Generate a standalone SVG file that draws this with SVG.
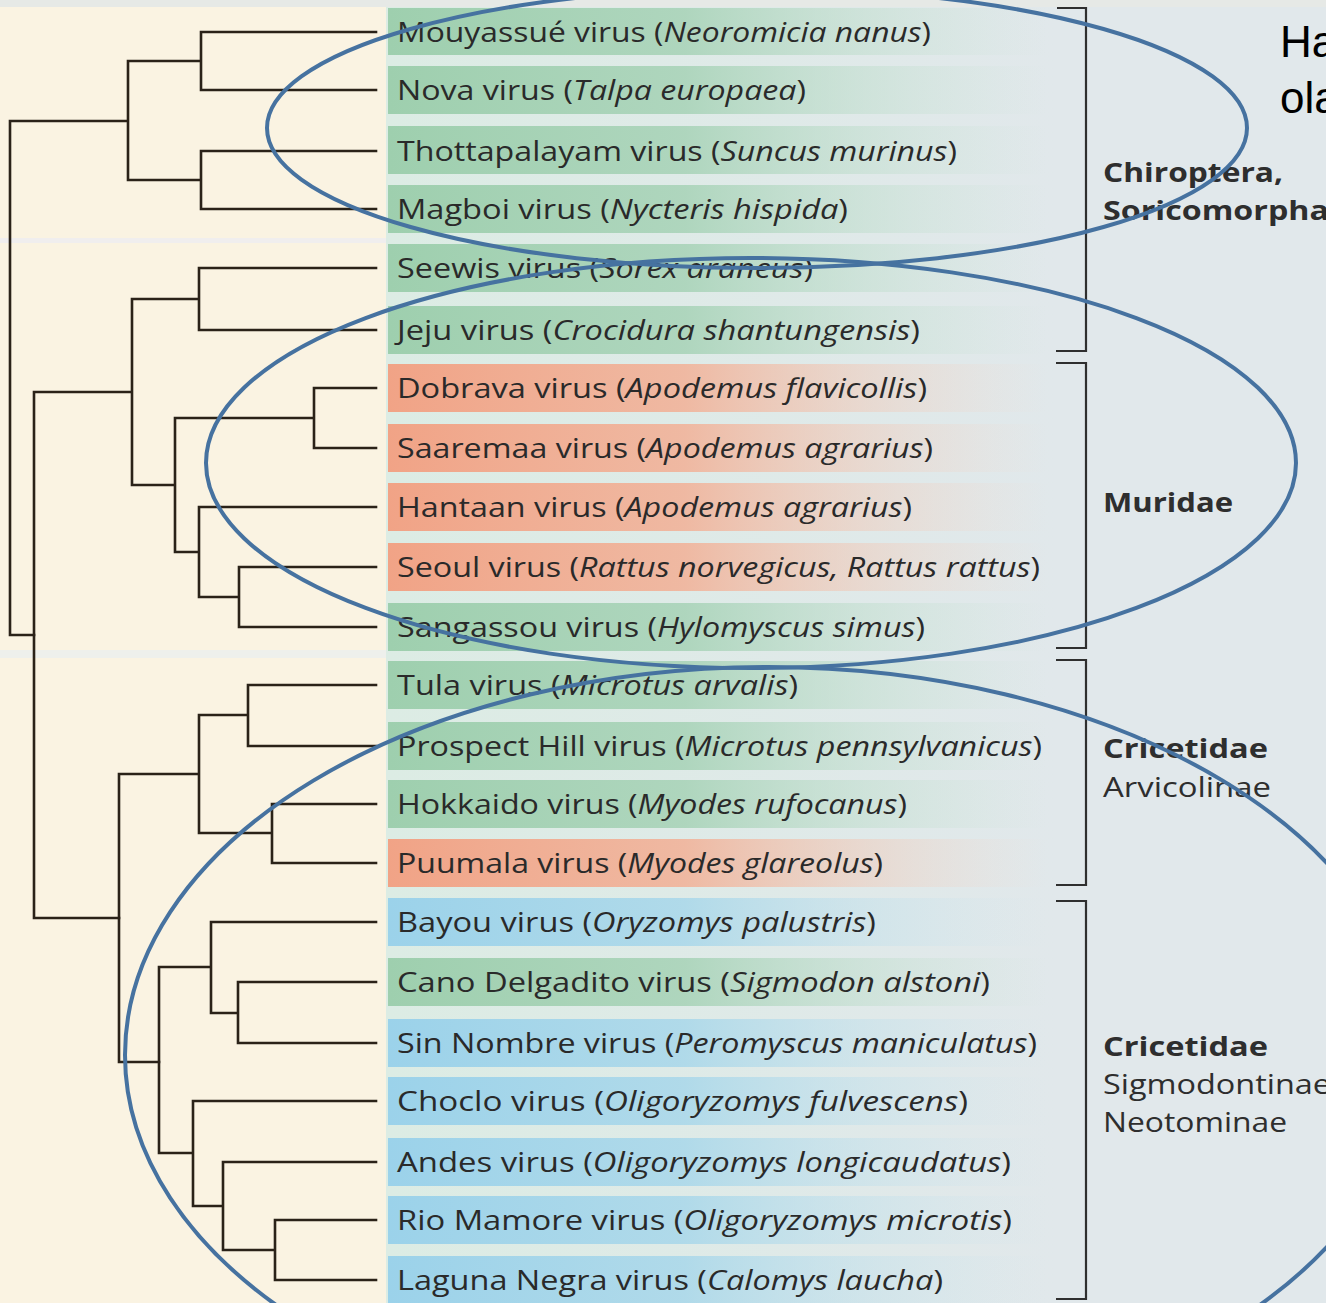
<svg xmlns="http://www.w3.org/2000/svg" width="1326" height="1303" viewBox="0 0 1326 1303">
<defs>
<linearGradient id="gGreen" x1="0" y1="0" x2="1" y2="0"><stop offset="0" stop-color="#9ecfae"/><stop offset="0.45" stop-color="#a6d2b6" stop-opacity="0.85"/><stop offset="1" stop-color="#c9e3d6" stop-opacity="0"/></linearGradient>
<linearGradient id="gSalmon" x1="0" y1="0" x2="1" y2="0"><stop offset="0" stop-color="#f1a386"/><stop offset="0.45" stop-color="#f2b096" stop-opacity="0.85"/><stop offset="1" stop-color="#f5d6c8" stop-opacity="0"/></linearGradient>
<linearGradient id="gBlue" x1="0" y1="0" x2="1" y2="0"><stop offset="0" stop-color="#9bd2ea"/><stop offset="0.45" stop-color="#a8d7ea" stop-opacity="0.85"/><stop offset="1" stop-color="#cfe5ee" stop-opacity="0"/></linearGradient>
<linearGradient id="gBase" x1="0" y1="0" x2="1" y2="0"><stop offset="0" stop-color="#dcece4"/><stop offset="1" stop-color="#e1e8eb"/></linearGradient>
<style>
.lbl{font-family:"Open Sans","Liberation Sans",sans-serif;font-size:27px;fill:#2a2a2a}
.i{font-style:italic}
.grp{font-family:"Open Sans","Liberation Sans",sans-serif;font-size:27px;fill:#2e2e2e}
.b{font-weight:700}
.tree{fill:none;stroke:#2a2218;stroke-width:2.6;stroke-linecap:square}
.brk{fill:none;stroke:#2f2f2f;stroke-width:2.2}
.ell{fill:none;stroke:#4672a0;stroke-width:4}
.g{fill:url(#gGreen)}.s{fill:url(#gSalmon)}.bl{fill:url(#gBlue)}
.big{font-family:"Liberation Sans",Arial,sans-serif;font-size:44px;fill:#000}
</style>
</defs>
<!-- backgrounds -->
<rect x="0" y="0" width="1326" height="1303" fill="#e1e8eb"/>
<rect x="0" y="0" width="386" height="1303" fill="#faf3e2"/>
<rect x="386" y="0" width="670" height="1303" fill="url(#gBase)"/>
<rect x="0" y="0" width="1326" height="7" fill="#e6e9e6"/>
<rect x="0" y="238" width="386" height="5" fill="#f0eeee"/>
<rect x="0" y="650" width="386" height="8" fill="#eef0ec"/>

<!-- label rows -->
<g id="n1"><rect class="g" x="388" y="8" width="660" height="47"/><text class="lbl" x="397" y="42" textLength="534" lengthAdjust="spacingAndGlyphs">Mouyassué virus (<tspan class="i">Neoromicia nanus</tspan>)</text></g>
<g id="n2"><rect class="g" x="388" y="66" width="660" height="48"/><text class="lbl" x="397" y="100" textLength="409" lengthAdjust="spacingAndGlyphs">Nova virus (<tspan class="i">Talpa europaea</tspan>)</text></g>
<g id="n3"><rect class="g" x="388" y="126" width="660" height="48"/><text class="lbl" x="397" y="161" textLength="560" lengthAdjust="spacingAndGlyphs">Thottapalayam virus (<tspan class="i">Suncus murinus</tspan>)</text></g>
<g id="n4"><rect class="g" x="388" y="185" width="660" height="48"/><text class="lbl" x="397" y="219" textLength="451" lengthAdjust="spacingAndGlyphs">Magboi virus (<tspan class="i">Nycteris hispida</tspan>)</text></g>
<g id="n5"><rect class="g" x="388" y="244" width="660" height="48"/><text class="lbl" x="397" y="278" textLength="416" lengthAdjust="spacingAndGlyphs">Seewis virus (<tspan class="i">Sorex araneus</tspan>)</text></g>
<g id="n6"><rect class="g" x="388" y="306" width="660" height="48"/><text class="lbl" x="397" y="340" textLength="523" lengthAdjust="spacingAndGlyphs">Jeju virus (<tspan class="i">Crocidura shantungensis</tspan>)</text></g>
<g id="n7"><rect class="s" x="388" y="364" width="660" height="48"/><text class="lbl" x="397" y="398" textLength="530" lengthAdjust="spacingAndGlyphs">Dobrava virus (<tspan class="i">Apodemus flavicollis</tspan>)</text></g>
<g id="n8"><rect class="s" x="388" y="424" width="660" height="48"/><text class="lbl" x="397" y="458" textLength="536" lengthAdjust="spacingAndGlyphs">Saaremaa virus (<tspan class="i">Apodemus agrarius</tspan>)</text></g>
<g id="n9"><rect class="s" x="388" y="483" width="660" height="48"/><text class="lbl" x="397" y="517" textLength="515" lengthAdjust="spacingAndGlyphs">Hantaan virus (<tspan class="i">Apodemus agrarius</tspan>)</text></g>
<g id="n10"><rect class="s" x="388" y="543" width="660" height="48"/><text class="lbl" x="397" y="577" textLength="643" lengthAdjust="spacingAndGlyphs">Seoul virus (<tspan class="i">Rattus norvegicus, Rattus rattus</tspan>)</text></g>
<g id="n11"><rect class="g" x="388" y="603" width="660" height="48"/><text class="lbl" x="397" y="637" textLength="528" lengthAdjust="spacingAndGlyphs">Sangassou virus (<tspan class="i">Hylomyscus simus</tspan>)</text></g>
<g id="n12"><rect class="g" x="388" y="661" width="660" height="48"/><text class="lbl" x="397" y="695" textLength="401" lengthAdjust="spacingAndGlyphs">Tula virus (<tspan class="i">Microtus arvalis</tspan>)</text></g>
<g id="n13"><rect class="g" x="388" y="722" width="660" height="48"/><text class="lbl" x="397" y="756" textLength="645" lengthAdjust="spacingAndGlyphs">Prospect Hill virus (<tspan class="i">Microtus pennsylvanicus</tspan>)</text></g>
<g id="n14"><rect class="g" x="388" y="780" width="660" height="48"/><text class="lbl" x="397" y="814" textLength="510" lengthAdjust="spacingAndGlyphs">Hokkaido virus (<tspan class="i">Myodes rufocanus</tspan>)</text></g>
<g id="n15"><rect class="s" x="388" y="839" width="660" height="48"/><text class="lbl" x="397" y="873" textLength="486" lengthAdjust="spacingAndGlyphs">Puumala virus (<tspan class="i">Myodes glareolus</tspan>)</text></g>
<g id="n16"><rect class="bl" x="388" y="898" width="660" height="48"/><text class="lbl" x="397" y="932" textLength="479" lengthAdjust="spacingAndGlyphs">Bayou virus (<tspan class="i">Oryzomys palustris</tspan>)</text></g>
<g id="n17"><rect class="g" x="388" y="958" width="660" height="48"/><text class="lbl" x="397" y="992" textLength="593" lengthAdjust="spacingAndGlyphs">Cano Delgadito virus (<tspan class="i">Sigmodon alstoni</tspan>)</text></g>
<g id="n18"><rect class="bl" x="388" y="1019" width="660" height="48"/><text class="lbl" x="397" y="1053" textLength="640" lengthAdjust="spacingAndGlyphs">Sin Nombre virus (<tspan class="i">Peromyscus maniculatus</tspan>)</text></g>
<g id="n19"><rect class="bl" x="388" y="1077" width="660" height="48"/><text class="lbl" x="397" y="1111" textLength="571" lengthAdjust="spacingAndGlyphs">Choclo virus (<tspan class="i">Oligoryzomys fulvescens</tspan>)</text></g>
<g id="n20"><rect class="bl" x="388" y="1138" width="660" height="48"/><text class="lbl" x="397" y="1172" textLength="614" lengthAdjust="spacingAndGlyphs">Andes virus (<tspan class="i">Oligoryzomys longicaudatus</tspan>)</text></g>
<g id="n21"><rect class="bl" x="388" y="1196" width="660" height="48"/><text class="lbl" x="397" y="1230" textLength="615" lengthAdjust="spacingAndGlyphs">Rio Mamore virus (<tspan class="i">Oligoryzomys microtis</tspan>)</text></g>
<g id="n22"><rect class="bl" x="388" y="1256" width="660" height="47"/><text class="lbl" x="397" y="1290" textLength="546" lengthAdjust="spacingAndGlyphs">Laguna Negra virus (<tspan class="i">Calomys laucha</tspan>)</text></g>

<!-- tree connectors -->
<g id="connectors" class="tree">
<path d="M376 32H201V90H376M376 151H201V209H376M201 61H128V180H201M128 121H10V635H34"/>
<path d="M376 268H199V330H376M376 388H314V448H376M376 507H199V597H239M376 567H239V627H376M314 418H175V552H199M199 299H132V485H175M132 392H34V918H119"/>
<path d="M376 685H248V746H376M376 804H272V863H376M248 715H199V833H272M199 774H119V1062H159"/>
<path d="M376 922H211V1013H238M376 982H238V1043H376M211 967H159V1153H193M376 1101H193V1206H223M376 1162H223V1250H275M376 1220H275V1280H376"/>
</g>

<!-- brackets and group labels -->
<g id="grp1"><path class="brk" d="M1057 8H1086V351H1056"/><text class="grp b" x="1103" y="182" textLength="180" lengthAdjust="spacingAndGlyphs">Chiroptera,</text><text class="grp b" x="1103" y="220" textLength="226" lengthAdjust="spacingAndGlyphs">Soricomorpha</text></g>
<g id="grp2"><path class="brk" d="M1056 363H1086V648H1056"/><text class="grp b" x="1103" y="512" textLength="130" lengthAdjust="spacingAndGlyphs">Muridae</text></g>
<g id="grp3"><path class="brk" d="M1056 660H1086V885H1056"/><text class="grp b" x="1103" y="758" textLength="165" lengthAdjust="spacingAndGlyphs">Cricetidae</text><text class="grp" x="1103" y="797" textLength="168" lengthAdjust="spacingAndGlyphs">Arvicolinae</text></g>
<g id="grp4"><path class="brk" d="M1056 901H1086V1299H1056"/><text class="grp b" x="1103" y="1056" textLength="165" lengthAdjust="spacingAndGlyphs">Cricetidae</text><text class="grp" x="1103" y="1094" textLength="228" lengthAdjust="spacingAndGlyphs">Sigmodontinae</text><text class="grp" x="1103" y="1132" textLength="184" lengthAdjust="spacingAndGlyphs">Neotominae</text></g>

<!-- overlay text (cut off at the right edge, as in the reference) -->
<text class="big" x="1280" y="57">Ha</text>
<text class="big" x="1280" y="113">ola</text>

<!-- ellipses -->
<g id="ellipses">
<ellipse class="ell" cx="757" cy="128" rx="490" ry="140"/>
<ellipse class="ell" cx="751" cy="463" rx="545" ry="205"/>
<ellipse class="ell" cx="768" cy="1055" rx="643" ry="388"/>
</g>
</svg>
